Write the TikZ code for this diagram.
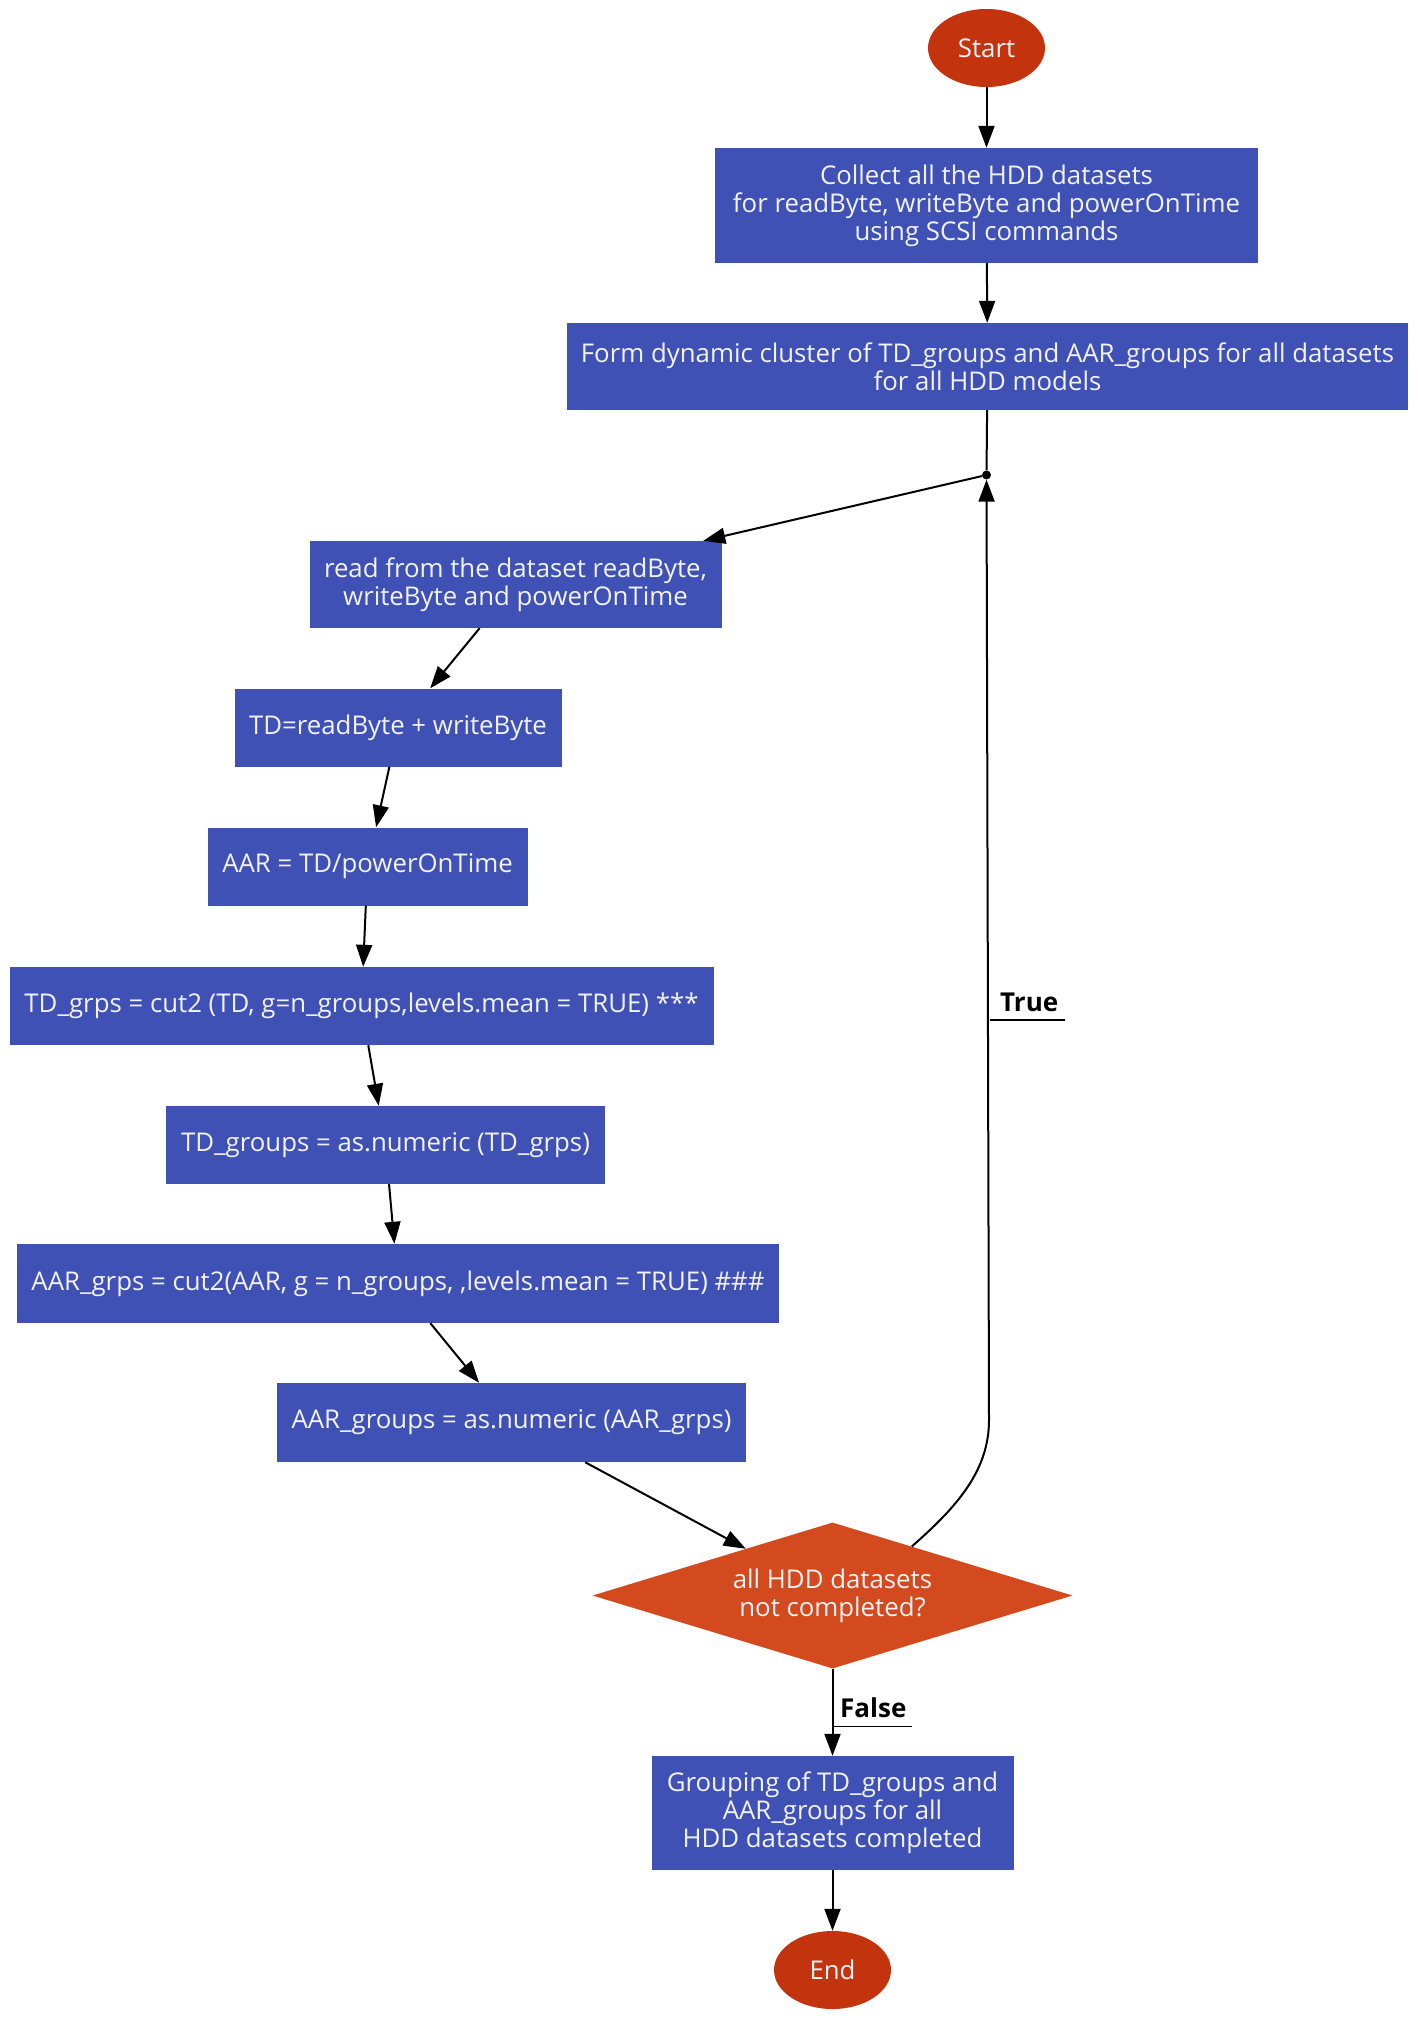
\documentclass[tikz,border=0pt]{standalone}
\usepackage{fontspec}
\setmainfont{Open Sans}
\usetikzlibrary{shapes.geometric,arrows.meta,calc}
\definecolor{boxblue}{HTML}{3F51B5}
\definecolor{termred}{HTML}{C2330E}
\definecolor{decorange}{HTML}{D24A1E}
\definecolor{txt}{HTML}{F2F2F7}
\begin{document}
\begin{tikzpicture}[x=1pt,y=-1pt,
  every node/.style={font=\fontsize{25.8}{28}\selectfont, text=txt},
  box/.style={rectangle, fill=boxblue, align=center, inner sep=0pt},
  term/.style={ellipse, fill=termred, inner sep=0pt, minimum width=117pt, minimum height=78pt},
  decision/.style={diamond, aspect=3.3, fill=decorange, align=center, inner sep=0pt, minimum width=480pt, minimum height=146pt},
  junc/.style={circle, fill=black, inner sep=0pt, minimum size=9pt},
  arr/.style={draw=black, line width=2pt, -{Triangle[length=22pt,width=16pt]}},
  ln/.style={draw=black, line width=2pt},
  elabel/.style={font=\bfseries\fontsize{26}{28}\selectfont, text=black, inner sep=0pt},
  uline/.style={draw=black, line width=1.6pt}
]
\useasboundingbox (0,0) rectangle (1418,2020);
\fill[white] (0,0) rectangle (1418,2020);

\node[term] (start) at (986.5,48) {Start};
\node[box, minimum width=543pt, minimum height=115pt] (b1) at (986.5,205.5)
  {Collect all the HDD datasets\\for readByte, writeByte and powerOnTime\\using SCSI commands};
\node[box, minimum width=841pt, minimum height=87pt] (b2) at (987.5,366.5)
  {Form dynamic cluster of TD\_groups and AAR\_groups for all datasets\\for all HDD models};
\node[junc] (j) at (986.5,475) {};
\node[box, minimum width=412pt, minimum height=87pt] (b3) at (515.5,584.5)
  {read from the dataset readByte,\\writeByte and powerOnTime};
\node[box, minimum width=327pt, minimum height=78pt] (b4) at (398,727.5)
  {TD=readByte + writeByte};
\node[box, minimum width=320pt, minimum height=78pt] (b5) at (367.5,866.5)
  {AAR = TD/powerOnTime};
\node[box, minimum width=704pt, minimum height=78pt] (b6) at (361.5,1006)
  {TD\_grps = cut2 (TD, g=n\_groups,levels.mean = TRUE) ***};
\node[box, minimum width=439pt, minimum height=78pt] (b7) at (385.5,1145)
  {TD\_groups = as.numeric (TD\_grps)};
\node[box, minimum width=762pt, minimum height=79pt] (b8) at (398,1283.5)
  {AAR\_grps = cut2(AAR, g = n\_groups, ,levels.mean = TRUE) \#\#\#};
\node[box, minimum width=469pt, minimum height=79pt] (b9) at (511.5,1422.5)
  {AAR\_groups = as.numeric (AAR\_grps)};
\node[decision] (d) at (832.5,1595.5) {all HDD datasets\\not completed?};
\node[box, minimum width=362pt, minimum height=114pt] (b10) at (832.5,1813)
  {Grouping of TD\_groups and\\AAR\_groups for all\\HDD datasets completed};
\node[term] (end) at (832.5,1970) {End};

\draw[arr] (start) -- (b1);
\draw[arr] (b1) -- (b2);
\draw[ln] (b2) -- (j);
\draw[arr] (j) -- (b3);
\draw[arr] (b3) -- (b4);
\draw[arr] (b4) -- (b5);
\draw[arr] (b5) -- (b6);
\draw[arr] (b6) -- (b7);
\draw[arr] (b7) -- (b8);
\draw[arr] (b8) -- (b9);
\draw[arr] (b9) -- (d);
\draw[arr] (d) -- (b10);
\draw[arr] (b10) -- (end);
\draw[arr] ($(d.north)!0.33!(d.east)$) .. controls (958,1506) and (989,1470) .. (989,1420) -- (j);

\node[elabel, anchor=base west] (tl) at (1000,1011) {True};
\draw[uline] ($(tl.base west)+(-10,9)$) -- ($(tl.base east)+(7,9)$);
\node[elabel, anchor=base west] (fl) at (840,1717.5) {False};
\draw[uline] ($(fl.base west)+(-7,9)$) -- ($(fl.base east)+(5,9)$);
\end{tikzpicture}
\end{document}
